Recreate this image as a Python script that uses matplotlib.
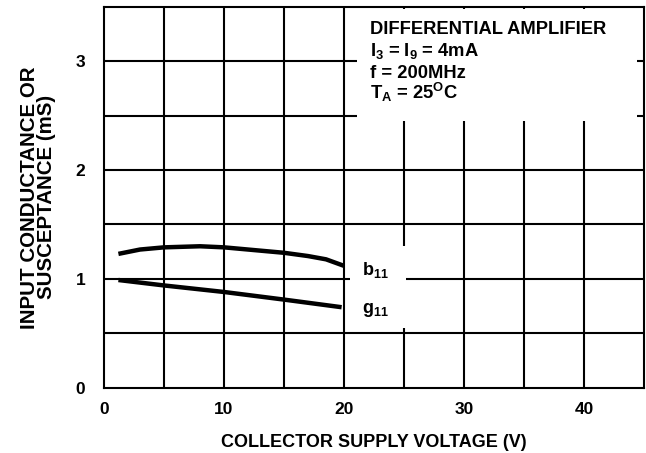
import matplotlib
matplotlib.use('Agg')
import matplotlib.pyplot as plt
from matplotlib.patches import Rectangle

plt.rcParams['font.family'] = ['Liberation Sans', 'DejaVu Sans']
plt.rcParams['font.weight'] = 'bold'
plt.rcParams['mathtext.fontset'] = 'custom'
plt.rcParams['mathtext.bf'] = 'Liberation Sans:bold'
plt.rcParams['mathtext.rm'] = 'Liberation Sans:bold'
plt.rcParams['mathtext.default'] = 'bf'

# values
b11_v = [1.2, 3, 5, 8, 10, 12, 15, 17, 18.5, 20]
b11_s = [1.23, 1.27, 1.29, 1.30, 1.29, 1.27, 1.24, 1.21, 1.18, 1.12]
g11_v = [1.2, 5, 10, 15, 19.8]
g11_g = [0.99, 0.94, 0.88, 0.81, 0.74]

xticks = [0, 10, 20, 30, 40]
yticks = [0, 1, 2, 3]
info_lines = ['DIFFERENTIAL AMPLIFIER', 'I$_3$ = I$_9$ = 4mA', 'f = 200MHz', 'T$_A$ = 25$^O$C']

fig = plt.figure(figsize=(6.46, 4.53), dpi=100)
ax = fig.add_axes([0.161, 0.144, 0.836, 0.841])
ax.set_xlim(0, 45)
ax.set_ylim(0, 3.5)

for xv in range(5, 45, 5):
    ax.axvline(xv, color='black', lw=1.5, zorder=1)
for yv in [0.5, 1, 1.5, 2, 2.5, 3]:
    ax.axhline(yv, color='black', lw=1.5, zorder=1)

ax.plot(b11_v, b11_s, color='black', lw=3.2, solid_capstyle='butt', zorder=3)
ax.plot(g11_v, g11_g, color='black', lw=3.2, solid_capstyle='butt', zorder=3)

# white patches that blank the grid behind the labels
ax.add_patch(Rectangle((21.1, 2.45), 23.3, 1.03, facecolor='white', edgecolor='none', zorder=2))
ax.add_patch(Rectangle((20.5, 0.55), 4.7, 0.75, facecolor='white', edgecolor='none', zorder=2))

ax.text(21.5, 1.04, 'b$_{11}$', fontsize=13, va='baseline', ha='left', zorder=4)
ax.text(21.5, 0.69, 'g$_{11}$', fontsize=13, va='baseline', ha='left', zorder=4)

for i, s in enumerate(info_lines):
    ax.text(22.15, 3.25 - i * 0.2, s, fontsize=13.2, va='baseline', ha='left', zorder=4)

ax.set_xticks(xticks)
ax.set_yticks(yticks)
ax.tick_params(length=0, labelsize=12.5)
ax.tick_params(axis='x', pad=10.5)
ax.tick_params(axis='y', pad=13.5)
for lab in ax.get_xticklabels() + ax.get_yticklabels():
    lab.set_fontweight('bold')
for sp in ax.spines.values():
    sp.set_linewidth(1.5)
    sp.set_zorder(5)

ax.set_xlabel('COLLECTOR SUPPLY VOLTAGE (V)', fontsize=13, fontweight='bold', labelpad=12)
ax.set_ylabel('INPUT CONDUCTANCE OR\nSUSCEPTANCE (mS)', fontsize=14.8, fontweight='bold',
              labelpad=14, linespacing=0.85)

fig.savefig('out.png', dpi=100)
